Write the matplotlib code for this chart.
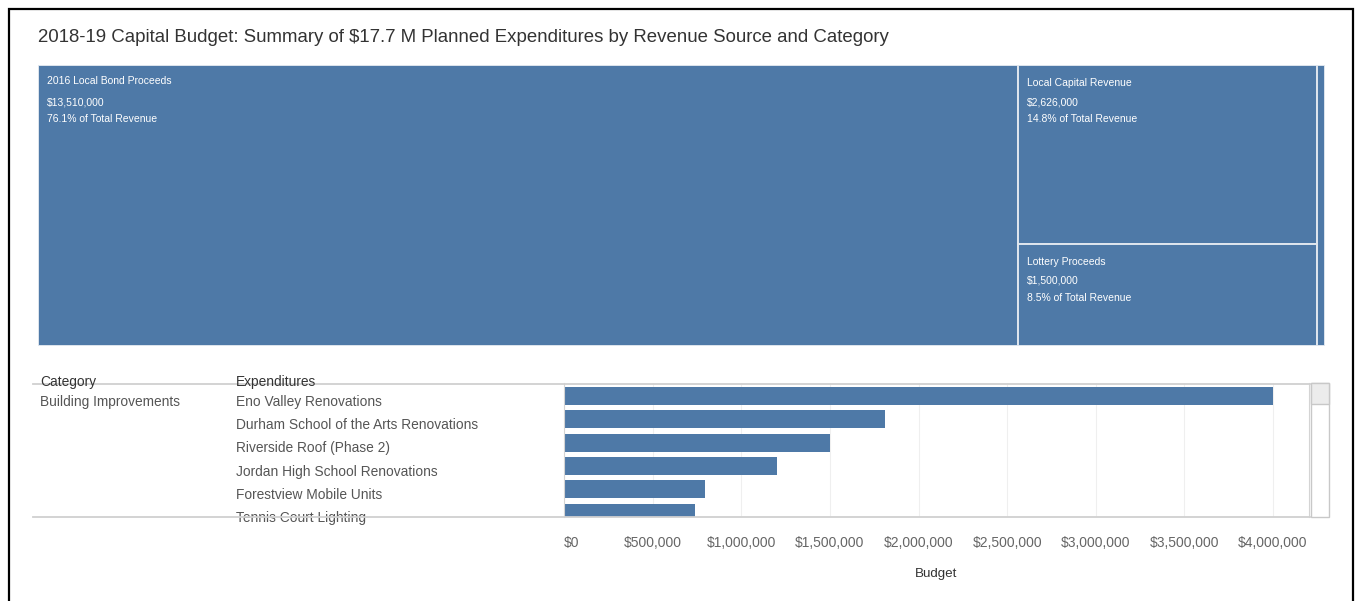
import matplotlib.pyplot as plt
from matplotlib.patches import Rectangle
from matplotlib.lines import Line2D
from matplotlib.transforms import blended_transform_factory

plt.rcParams['font.family'] = ['Liberation Sans', 'DejaVu Sans']

# revenue sources (treemap)
sources = ["2016 Local Bond Proceeds", "Local Capital Revenue", "Lottery Proceeds", "Other Revenue"]
source_values = [13510000, 2626000, 1500000, 115000]

# expenditures (bar chart)
category = "Building Improvements"
projects = ["Eno Valley Renovations", "Durham School of the Arts Renovations",
            "Riverside Roof (Phase 2)", "Jordan High School Renovations",
            "Forestview Mobile Units", "Tennis Court Lighting"]
budgets = [4000000, 1810000, 1500000, 1200000, 795000, 740000]
budget_ticks = [0, 500000, 1000000, 1500000, 2000000, 2500000, 3000000, 3500000, 4000000]

W, H = 1355, 601
BLUE = "#4e79a7"


def fbox(x0, y0, x1, y1):
    # pixel box (top-left origin) -> figure rect
    return [x0 / W, 1 - y1 / H, (x1 - x0) / W, (y1 - y0) / H]


fig = plt.figure(figsize=(W / 100, H / 100), dpi=100)

# outer frame
fig.add_artist(Rectangle((9 / W, -0.05), (1353 - 9) / W, 1.05 - 9 / H,
                         transform=fig.transFigure, fill=False, ec="black", lw=1.6))

fig.text(38 / W, 1 - 38 / H, "2018-19 Capital Budget: Summary of $17.7 M Planned Expenditures by Revenue Source and Category",
         fontsize=13.4, color="#333333", va="center", ha="left")

# ---- treemap of revenue sources ----
tm = fig.add_axes(fbox(38, 65, 1325, 346))
total = sum(source_values)
tm.set_xlim(0, total)
tm.set_ylim(0, 1)
tm.axis("off")

# slice-and-dice: first source on its own, the next two stacked, the rest as a sliver
col = source_values[1] + source_values[2]
h1 = source_values[1] / col
blocks = [
    (0, 0, source_values[0], 1),
    (source_values[0], 1 - h1, col, h1),
    (source_values[0], 0, col, 1 - h1),
    (source_values[0] + col, 0, source_values[3], 1),
]
for i, (x, y, w, h) in enumerate(blocks):
    tm.add_patch(Rectangle((x, y), w, h, fc=BLUE, ec="#dfe6ee", lw=1.4))
    if i == 3:
        continue
    pct = source_values[i] / total * 100
    lines = [sources[i], f"${source_values[i]:,.0f}", f"{pct:.1f}% of Total Revenue"]
    offs = [-16 if i == 0 else -18, -37, -54]
    for txt, dy in zip(lines, offs):
        tm.annotate(txt, (x, y + h), xytext=(9, dy), textcoords="offset pixels",
                    color="white", fontsize=7.5, va="center", ha="left")

# ---- bar chart of expenditures ----
ax = fig.add_axes(fbox(564, 383, 1309, 517))
ypos = list(range(len(projects)))
ax.barh(ypos, budgets, height=0.77, color=BLUE)
ax.set_xlim(0, 4203000)
ax.set_ylim(5.19, -0.56)
ax.set_yticks([])
ax.set_xticks(budget_ticks)
ax.set_xticklabels([f"${t:,.0f}" for t in budget_ticks])
ax.tick_params(axis="x", length=0, pad=14, labelsize=10, labelcolor="#666666")
ax.get_xticklabels()[0].set_horizontalalignment("left")
ax.grid(axis="x", color="#efefef", lw=0.8)
ax.set_axisbelow(True)
for s in ["top", "bottom"]:
    ax.spines[s].set_visible(False)
for s in ["left", "right"]:
    ax.spines[s].set_color("#d4d4d4")
ax.set_xlabel("Budget", fontsize=9.6, color="#333333", labelpad=13)

# row labels on the left, in the same row positions as the bars
tr = blended_transform_factory(fig.transFigure, ax.transData)
for yy, name in zip(ypos, projects):
    ax.text(236 / W, yy + 0.25, name, transform=tr, fontsize=9.9, color="#555555",
            va="center", ha="left", clip_on=False)
ax.text(40 / W, 0.25, category, transform=tr, fontsize=9.9, color="#555555",
        va="center", ha="left", clip_on=False)

# column headers and the rules running through them
fig.text(40 / W, 1 - 382 / H, "Category", fontsize=9.9, color="#333333", va="center")
fig.text(236 / W, 1 - 382 / H, "Expenditures", fontsize=9.9, color="#333333", va="center")
for yy in (384, 517):
    fig.add_artist(Line2D([33 / W, 1310 / W], [1 - yy / H, 1 - yy / H],
                          transform=fig.transFigure, color="#d0d0d0", lw=1.3))

# scrollbar
fig.add_artist(Rectangle((1311 / W, 1 - 517 / H), 18 / W, 134 / H, transform=fig.transFigure,
                         fc="white", ec="#c8c8c8", lw=1))
fig.add_artist(Rectangle((1311 / W, 1 - 404 / H), 18 / W, 21 / H, transform=fig.transFigure,
                         fc="#ececec", ec="#c8c8c8", lw=1))

fig.savefig("out.png", dpi=100)
